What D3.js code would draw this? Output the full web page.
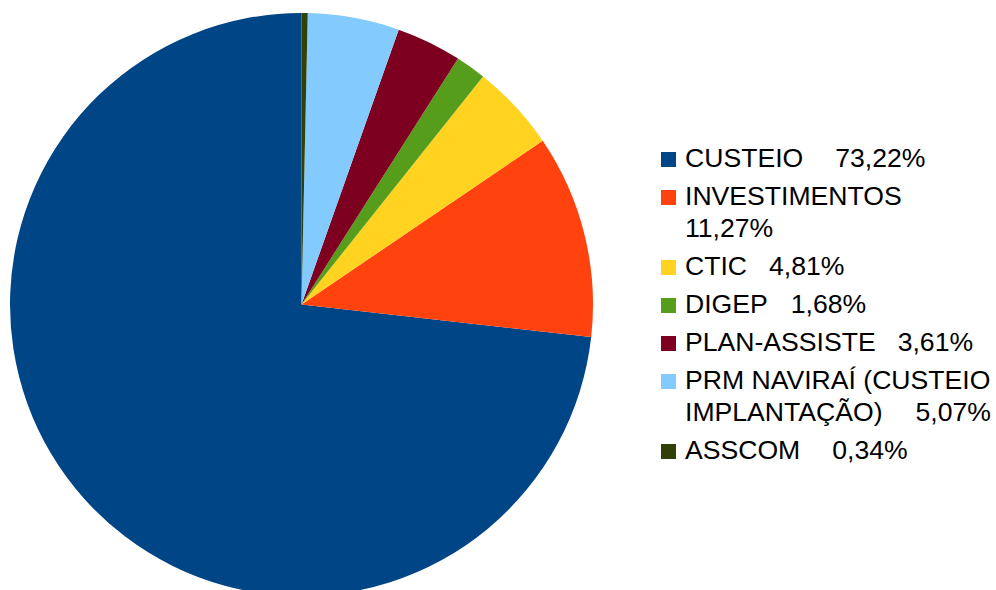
<!DOCTYPE html>
<html><head><meta charset="utf-8">
<script src="https://cdn.jsdelivr.net/npm/d3@7"></script>
<style>html,body{margin:0;padding:0;background:#fff;}svg{display:block;}</style>
</head><body>
<svg id="chart" width="996" height="590"></svg>
<script>
// DATA
const categories = ["CUSTEIO","INVESTIMENTOS","CTIC","DIGEP","PLAN-ASSISTE","PRM NAVIRAÍ (CUSTEIO IMPLANTAÇÃO)","ASSCOM"];
const values = [73.22, 11.27, 4.81, 1.68, 3.61, 5.07, 0.34];
const valueLabels = ["73,22%","11,27%","4,81%","1,68%","3,61%","5,07%","0,34%"];
const colors = ["#004586","#ff420e","#ffd320","#579d1c","#7e0021","#83caff","#314004"];

const svg = d3.select("#chart");
const cx = 301.5, cy = 304.5, r = 291.5;

const pie = d3.pie().sort(null).value(d => d.v).startAngle(0).endAngle(-2*Math.PI);
const arc = d3.arc().innerRadius(0).outerRadius(r);
const data = categories.map((c,i)=>({c, v: values[i], color: colors[i], lab: valueLabels[i]}));

svg.append("g").attr("transform",`translate(${cx},${cy})`)
  .selectAll("path").data(pie(data)).join("path")
  .attr("d", arc).attr("fill", d => d.data.color);

// LEGEND (layout)
const font = "Liberation Sans, Arial, sans-serif";
const fs = 26.6;
const lx = 685, sqx = 661, sq = 15;
const maxW = 996 - lx - 1;
const entryGap = 38, lineGap = 32;
const tabGaps = [32, 22, 22, 23, 22, 33, 32];
const lg = svg.append("g").attr("font-family", font).attr("font-size", fs).attr("fill","#000");

const meas = svg.append("text").attr("font-family", font).attr("font-size", fs).attr("visibility","hidden");
function w(t){ meas.text(t); return meas.node().getComputedTextLength(); }

let y = 167;
data.forEach((d,i)=>{
  lg.append("rect").attr("x", sqx).attr("y", y - sq).attr("width", sq).attr("height", sq).attr("fill", d.color);
  const words = d.c.split(" ");
  let lines = [], cur = "";
  words.forEach(wd=>{
    const t = cur ? cur + " " + wd : wd;
    if (w(t) > maxW && cur) { lines.push(cur); cur = wd; } else cur = t;
  });
  const lastW = w(cur);
  let valOnNewLine = lastW + tabGaps[i] + w(d.lab) > maxW;
  lines.push(cur);
  let yy = y;
  lines.forEach((ln, k)=>{
    lg.append("text").attr("x", lx).attr("y", yy).text(ln);
    if (k === lines.length-1 && !valOnNewLine) {
      lg.append("text").attr("x", lx + w(ln) + tabGaps[i]).attr("y", yy).text(d.lab);
    }
    if (k < lines.length-1) yy += lineGap;
  });
  if (valOnNewLine) { yy += lineGap; lg.append("text").attr("x", lx).attr("y", yy).text(d.lab); }
  y = yy + entryGap;
});
meas.remove();
</script>
</body></html>
